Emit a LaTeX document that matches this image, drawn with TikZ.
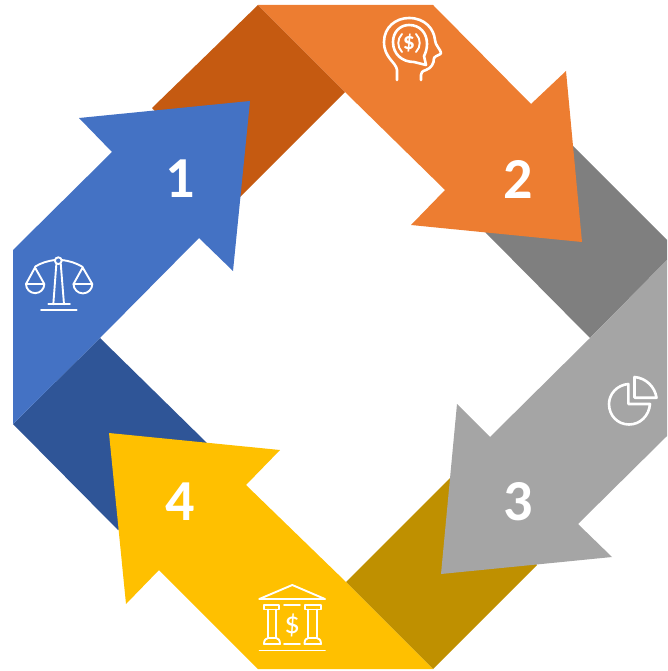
\documentclass[tikz,border=0pt]{standalone}
\usepackage{fontspec}
\setmainfont{Carlito}
\definecolor{cblue}{HTML}{4472C4}
\definecolor{cdblue}{HTML}{2F5597}
\definecolor{corange}{HTML}{ED7D31}
\definecolor{cdorange}{HTML}{C55A11}
\definecolor{cgray}{HTML}{A5A5A5}
\definecolor{cdgray}{HTML}{7F7F7F}
\definecolor{cgold}{HTML}{FFC000}
\definecolor{cdgold}{HTML}{BF9000}
\tikzset{
  num/.style={text=white,font=\bfseries\fontsize{58}{58}\selectfont,inner sep=0pt},
  icon/.style={draw=white,line width=2.6pt,line cap=round,line join=round},
  iconthin/.style={draw=white,line width=1.9pt,line cap=round,line join=round}
}
\begin{document}
\begin{tikzpicture}[x=1pt,y=-1pt]
\useasboundingbox (0,0) rectangle (667,671);
\clip (0,0) rectangle (667,671);
% bands
\fill[cdorange] (152,108) -- (258,5) -- (345,92) -- (240,197) -- cycle;
\fill[cdgray] (485,232) -- (573,146) -- (667,240) -- (667,260) -- (590,338) -- cycle;
\fill[cdgold] (346,582) -- (450,478) -- (537,565) -- (433,669) -- cycle;
\fill[cdblue] (13,424) -- (100,338) -- (207,443) -- (118,530) -- cycle;
% arrows
\fill[cblue] (13,250) -- (112,152) -- (79,118) -- (250,101) -- (233,271) -- (199,238) -- (100,338) -- (13,424) -- cycle;
\fill[corange] (258,5) -- (433,5) -- (531,104) -- (566,71) -- (582,242) -- (411,225) -- (445,190) -- (345,92) -- cycle;
\fill[cgray] (667,260) -- (590,338) -- (490,437) -- (457,404) -- (441,574) -- (612,557) -- (578,524) -- (667,436) -- cycle;
\fill[cgold] (433,669) -- (258,669) -- (159,570) -- (126,604) -- (109,433) -- (280,450) -- (246,485) -- (346,582) -- cycle;
% numbers
\node[num] (n1) at (180,179) {1};
\node[num] (n2) at (518,179) {2};
\node[num] (n3) at (518,502) {3};
\node[num] (n4) at (180,502) {4};
% scales icon
\draw[iconthin] (58.300,260.700) circle (3.4);
\draw[iconthin] (55,260) .. controls (47,261) and (41,263) .. (35,266.700);
\draw[iconthin] (61.600,260) .. controls (70,261) and (76,263) .. (82.700,267);
\draw[iconthin] (56.300,264.500) -- (53.300,304.300);
\draw[iconthin] (60.800,264.500) -- (64,304.300);
\draw[iconthin] (48.300,304.300) -- (70,304.300);
\draw[iconthin] (41,310.300) -- (76.700,310.300);
\draw[iconthin] (35,267.500) -- (26,284) -- (44.300,284) -- cycle;
\draw[iconthin] (26,284) arc[start angle=180,end angle=0,radius=9.150];
\draw[iconthin] (82.700,267.500) -- (73.500,284) -- (92.300,284) -- cycle;
\draw[iconthin] (73.500,284) arc[start angle=180,end angle=0,radius=9.400];
% head icon
\draw[icon] (397,80) -- (397,70) .. controls (396,62) and (384,58) .. (384,42) .. controls (384,27) and (396,18) .. (409,18) .. controls (425,18) and (434,29) .. (435,40) .. controls (435,45) and (441,50) .. (441,53) .. controls (441,55) and (436,55) .. (434,58);
\draw[icon] (434,58) .. controls (434,64) and (431,68) .. (426,70) .. controls (422,71) and (421,73) .. (421,75) -- (421,80);
\draw[icon] (426,65) -- (414,62) .. controls (402,62) and (393,54) .. (393,42) .. controls (393,32) and (400,25) .. (409,25) .. controls (420,25) and (427,33) .. (427,44) .. controls (427,50) and (425,54) .. (424,56) -- cycle;
\draw[iconthin] (402,34) .. controls (397,39) and (397,47) .. (402,52);
\draw[iconthin] (416,34) .. controls (421,39) and (421,47) .. (416,52);
\node[text=white,font=\bfseries\fontsize{24}{24}\selectfont,inner sep=0pt] (dollarh) at (409,43) {\$};
% pie icon
\draw[icon] (628.300,384) .. controls (617,385) and (609,394) .. (609,404) .. controls (609,416) and (618,424.500) .. (629,424.500) .. controls (640,424.500) and (649,416) .. (650,404) -- (628.300,404) -- cycle;
\draw[icon] (634.500,377) .. controls (646,378) and (655,387) .. (656.500,397.700) -- (634.500,397.700) -- cycle;
% bank icon
\draw[iconthin] (292.300,585) -- (259.300,599) -- (325,599) -- cycle;
\draw[iconthin] (264,605) -- (279.300,605) -- (279.300,609.500) -- (264,609.500) -- cycle;
\draw[iconthin] (305,605) -- (320.700,605) -- (320.700,609.500) -- (305,609.500) -- cycle;
\draw[iconthin] (268.300,609.500) -- (268.300,638) (276,609.500) -- (276,638);
\draw[iconthin] (308.300,609.500) -- (308.300,638) (316.700,609.500) -- (316.700,638);
\draw[iconthin] (264,644) .. controls (264,640) and (266,638) .. (268.300,638) -- (276,638) .. controls (278,638) and (280,640) .. (280,644) -- cycle;
\draw[iconthin] (304.500,644) .. controls (304.500,640) and (306,638) .. (308.300,638) -- (316.700,638) .. controls (319,638) and (321,640) .. (321,644) -- cycle;
\draw[iconthin] (284,605) -- (300,605) (284,644) -- (300,644);
\draw[iconthin] (259.500,650.500) -- (325,650.500);
\node[text=white,font=\fontsize{31}{31}\selectfont,inner sep=0pt] (dollarb) at (292.300,625.500) {\$};
\end{tikzpicture}
\end{document}
